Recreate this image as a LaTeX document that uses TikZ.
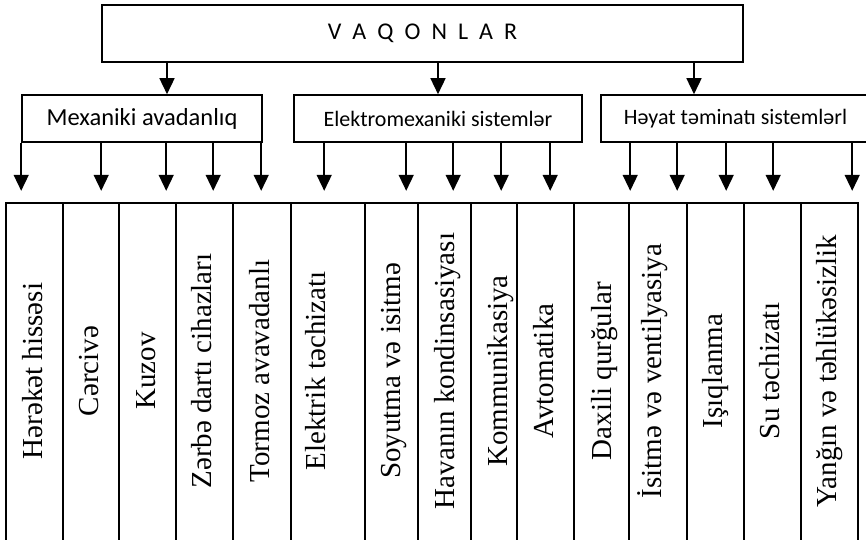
\documentclass[tikz,border=0pt]{standalone}
\usepackage{fontspec}
\setmainfont{Liberation Serif}
\setsansfont{Carlito}
\usetikzlibrary{arrows.meta, positioning}

\begin{document}
\begin{tikzpicture}[
  x=1pt, y=-1pt,
  top box/.style={draw, line width=1.6pt, minimum width=641pt, minimum height=57pt, inner sep=0pt, font=\sffamily\fontsize{24}{28}\selectfont},
  group box/.style={draw, line width=1.6pt, minimum height=47pt, inner sep=0pt, font=\sffamily\fontsize{22}{26}\selectfont},
  cell line/.style={line width=2.4pt},
  col text/.style={rotate=90, inner sep=0pt, text height=0.66em, text depth=0pt, font=\fontsize{29}{32}\selectfont},
  down arrow/.style={line width=1.5pt, -{Triangle[length=16pt, width=15pt]}}
]
  \useasboundingbox (0,0) rectangle (866,539);

  % top
  \node[top box] (vaqonlar) at (422.5,33.5) {{\spaceskip=0.46em V A Q O N L A R}};

  % groups
  \node[group box, minimum width=240pt, font=\sffamily\fontsize{24.5}{28}\selectfont] (mexaniki) at (142,118.5) {Mexaniki avadanlıq};
  \node[group box, minimum width=288pt] (elektro) at (438,118.5) {Elektromexaniki sistemlər};
  \node[group box, minimum width=269pt] (hayat) at (735.5,118.5) {Həyat təminatı sistemlərl};

  \draw[down arrow] (vaqonlar.south -| 167,0) -- (mexaniki.north -| 167,0);
  \draw[down arrow] (vaqonlar.south -| 438,0) -- (elektro.north -| 438,0);
  \draw[down arrow] (vaqonlar.south -| 694,0) -- (hayat.north -| 694,0);

  % arrows to the table
  \foreach \dx in {0, 80, 145, 192, 240}
    \draw[down arrow] ([xshift=\dx pt]mexaniki.south west) -- ++(0,48);
  \foreach \dx in {31, 113, 160, 208, 257}
    \draw[down arrow] ([xshift=\dx pt]elektro.south west) -- ++(0,48);
  \foreach \dx in {30, 77, 126, 173, 252}
    \draw[down arrow] ([xshift=\dx pt]hayat.south west) -- ++(0,48);

  % table
  \foreach \l/\r in {6/63, 63/119, 119/176, 176/233, 233/291, 291/365, 365/418, 418/471, 471/517, 517/574, 574/629, 629/687, 687/744, 744/801, 801/858}
    \draw[cell line] (\l,203) rectangle (\r,548);

  \node[col text] (harakat) at (39,371) {Hərəkət hissəsi};
  \node[col text] (carciva) at (95,371) {Cərcivə};
  \node[col text] (kuzov) at (152,371) {Kuzov};
  \node[col text] (zarba) at (208,371) {Zərbə dartı cihazları};
  \node[col text] (tormoz) at (266,371) {Tormoz avavadanlı};
  \node[col text] (elektrik) at (322.5,371) {Elektrik təchizatı};
  \node[col text] (soyutma) at (397.5,371) {Soyutma və isitmə};
  \node[col text] (havanin) at (451,371) {Havanın kondinsasiyası};
  \node[col text] (kommunik) at (504,371) {Kommunikasiya};
  \node[col text] (avtomat) at (550,371) {Avtomatika};
  \node[col text] (daxili) at (608,371) {Daxili qurğular};
  \node[col text] (isitma) at (658.5,371) {İsitmə və ventilyasiya};
  \node[col text] (isiq) at (719,371) {Işıqlanma};
  \node[col text] (su) at (776,371) {Su təchizatı};
  \node[col text] (yangin) at (833,371) {Yanğın və təhlükəsizlik};
\end{tikzpicture}
\end{document}
